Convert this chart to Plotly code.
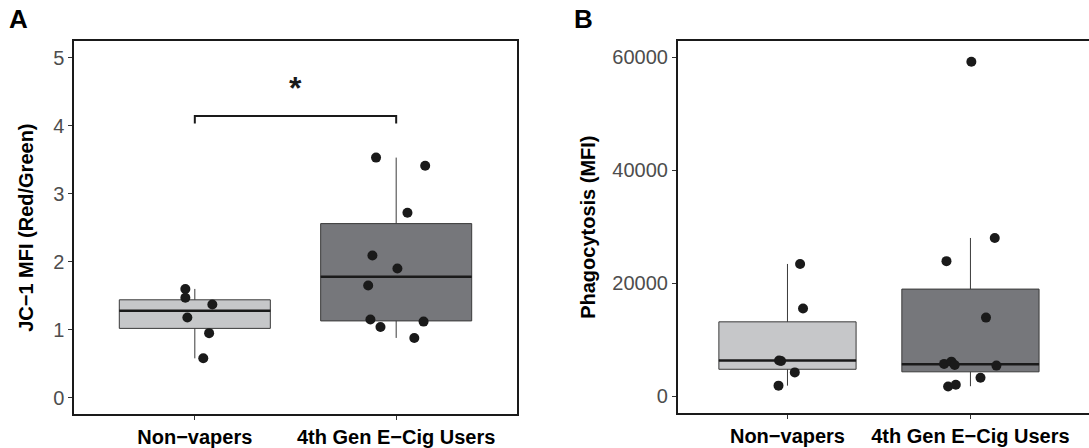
import plotly.graph_objects as go

# ---- data -------------------------------------------------------------
groups = ["Non\u2212vapers", "4th Gen E\u2212Cig Users"]

# Panel A: JC-1 MFI (Red/Green)
jc1_nonvapers = [1.60, 1.47, 1.37, 1.18, 0.95, 0.58]
jc1_ecig = [3.53, 3.41, 2.72, 2.09, 1.90, 1.65, 1.15, 1.04, 1.12, 0.88]
jc1_box_nonvapers = dict(lower=0.58, q1=1.02, median=1.28, q3=1.44, upper=1.60)
jc1_box_ecig = dict(lower=0.88, q1=1.13, median=1.78, q3=2.56, upper=3.53)

# Panel B: Phagocytosis (MFI)
phago_nonvapers = [23400, 15500, 6300, 6200, 4200, 1850]
phago_ecig = [59200, 28000, 23900, 13900, 5700, 6100, 5500, 5400, 3250, 1700, 2000]
phago_box_nonvapers = dict(lower=1850, q1=4750, median=6300, q3=13150, upper=23400)
phago_box_ecig = dict(lower=1750, q1=4300, median=5650, q3=18950, upper=28000)

# horizontal jitter of the dots (category units)
jit_a_nv = [-0.047, -0.047, 0.087, -0.037, 0.071, 0.042]
jit_a_ec = [-0.10, 0.144, 0.056, -0.118, 0.006, -0.139, -0.128, -0.078, 0.136, 0.09]
jit_b_nv = [0.069, 0.085, -0.046, -0.035, 0.040, -0.049]
jit_b_ec = [0.005, 0.133, -0.131, 0.085, -0.144, -0.104, -0.086, 0.142, 0.055, -0.122, -0.080]

FONT = "Liberation Sans, Arial, Helvetica, sans-serif"
FILLS = ["#c6c7c9", "#76777b"]
EDGE = "#3a3a3a"
DOT = "#1a1a1a"

fig = go.Figure()


def add_panel(xa, ya, boxes, values, jitters):
    for i, (b, vals, jit) in enumerate(zip(boxes, values, jitters)):
        pos = i + 1
        fig.add_trace(go.Box(
            x=[pos], q1=[b["q1"]], median=[b["median"]], q3=[b["q3"]],
            lowerfence=[b["lower"]], upperfence=[b["upper"]],
            width=0.75, whiskerwidth=0, fillcolor=FILLS[i],
            line=dict(color=EDGE, width=1), boxpoints=False,
            xaxis=xa, yaxis=ya, showlegend=False, hoverinfo="skip",
        ))
        # thicker median bar
        fig.add_trace(go.Scatter(
            x=[pos - 0.375, pos + 0.375], y=[b["median"], b["median"]],
            mode="lines", line=dict(color="#1a1a1a", width=2.5),
            xaxis=xa, yaxis=ya, showlegend=False, hoverinfo="skip",
        ))
        fig.add_trace(go.Scatter(
            x=[pos + j for j in jit], y=vals, mode="markers",
            marker=dict(color=DOT, size=10, line=dict(width=0)),
            xaxis=xa, yaxis=ya, showlegend=False,
        ))


add_panel("x", "y", [jc1_box_nonvapers, jc1_box_ecig],
          [jc1_nonvapers, jc1_ecig], [jit_a_nv, jit_a_ec])
add_panel("x2", "y2", [phago_box_nonvapers, phago_box_ecig],
          [phago_nonvapers, phago_ecig], [jit_b_nv, jit_b_ec])

# significance bracket in panel A
fig.add_trace(go.Scatter(
    x=[1, 1, 2, 2], y=[4.03, 4.14, 4.14, 4.03], mode="lines",
    line=dict(color="#1a1a1a", width=2), xaxis="x", yaxis="y",
    showlegend=False, hoverinfo="skip",
))

tickfont = dict(family=FONT, size=20, color="#4d4d4d")
xtickfont = dict(family=FONT, size=20, color="#000000", weight="bold")

common_x = dict(
    tickmode="array", tickvals=[1, 2], ticktext=groups,
    showline=True, linecolor="#1a1a1a", linewidth=1.5,
    ticks="outside", ticklen=4, tickcolor="#333333", tickwidth=1,
    showgrid=False, zeroline=False, tickfont=xtickfont, fixedrange=True,
)
common_y = dict(
    showline=True, linecolor="#1a1a1a", linewidth=1.5,
    ticks="outside", ticklen=4, tickcolor="#333333", tickwidth=1,
    showgrid=False, zeroline=False, tickfont=tickfont, fixedrange=True,
)

fig.update_layout(
    width=1089, height=448,
    margin=dict(l=0, r=0, t=0, b=0),
    paper_bgcolor="white", plot_bgcolor="white",
    font=dict(family=FONT),
    xaxis=dict(common_x, domain=[74 / 1089, 517 / 1089], range=[0.4, 2.6],
               anchor="y", mirror=True),
    yaxis=dict(common_y, domain=[26 / 448, 406 / 448], range=[-0.245, 5.24],
               tickvals=[0, 1, 2, 3, 4, 5], anchor="x", mirror=True),
    xaxis2=dict(common_x, domain=[677.7 / 1089, 1.0], range=[0.4, 2.648],
                anchor="y2", mirror=True),
    yaxis2=dict(common_y, domain=[27 / 448, 406.3 / 448], range=[-3078, 62887],
                tickvals=[0, 20000, 40000, 60000], tickformat="d",
                anchor="x2", mirror=False),
    annotations=[
        dict(text="<b>A</b>", x=18 / 1089, y=1 - 19 / 448, xref="paper", yref="paper",
             xanchor="center", yanchor="middle",
             showarrow=False, font=dict(family=FONT, size=26, color="black")),
        dict(text="<b>B</b>", x=583 / 1089, y=1 - 19 / 448, xref="paper", yref="paper",
             xanchor="center", yanchor="middle",
             showarrow=False, font=dict(family=FONT, size=26, color="black")),
        dict(text="<b>JC\u22121 MFI (Red/Green)</b>", textangle=-90,
             x=26 / 1089, y=1 - 232 / 448, xref="paper", yref="paper",
             xanchor="center", yanchor="middle",
             showarrow=False, font=dict(family=FONT, size=20, color="black")),
        dict(text="<b>Phagocytosis (MFI)</b>", textangle=-90,
             x=588 / 1089, y=1 - 232 / 448, xref="paper", yref="paper",
             xanchor="center", yanchor="middle",
             showarrow=False, font=dict(family=FONT, size=20, color="black")),
        dict(text="<b>*</b>", x=1.5, y=4.55, xref="x", yref="y",
             xanchor="center", yanchor="middle",
             showarrow=False, font=dict(family=FONT, size=32, color="#1a1a1a")),
    ],
)

fig.write_html("out.html")
